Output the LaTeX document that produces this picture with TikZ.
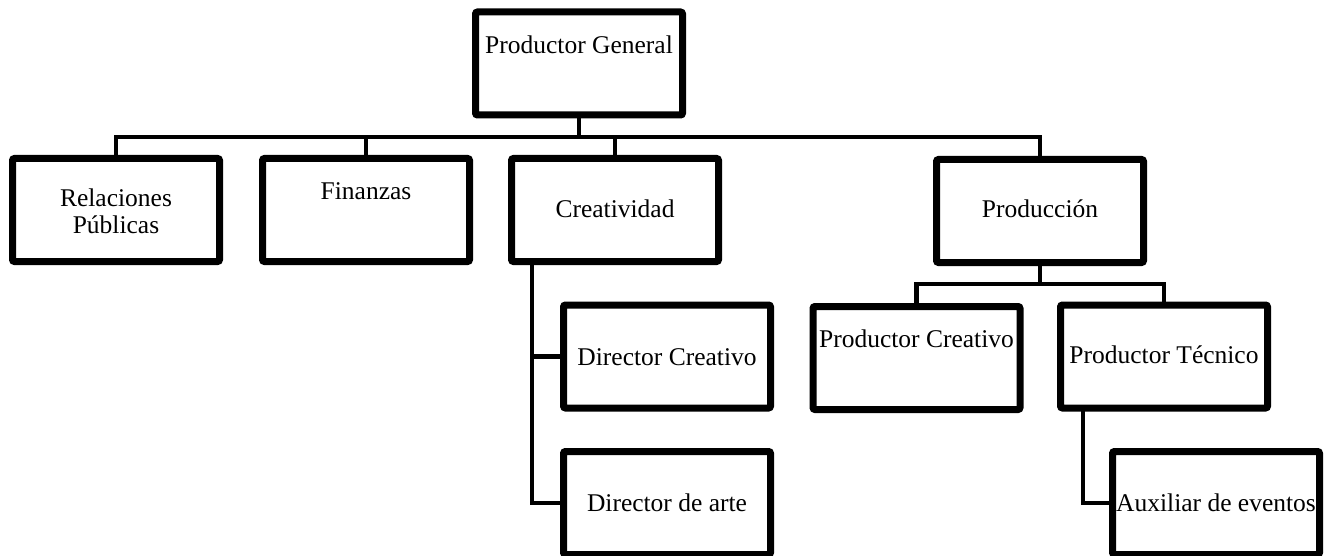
\documentclass[tikz,border=0pt]{standalone}
\usepackage{fontspec}
\setmainfont{Liberation Serif}
\usetikzlibrary{shadows,calc}
\begin{document}
\begin{tikzpicture}[x=0.5pt,y={(0pt,-0.5pt)},
  box/.style={draw=black,line width=3.5pt,fill=white,rounded corners=1pt,
    minimum width=103.5pt,minimum height=51.5pt,inner sep=0pt,
    drop shadow={shadow xshift=1.2pt,shadow yshift=-1.2pt,opacity=0.25,fill=black}},
  txt/.style={inner sep=0pt,anchor=base,font=\fontsize{12.75}{13.5}\selectfont},
  conn/.style={draw=black,line width=2.25pt}]
\useasboundingbox (0,0) rectangle (1328,556);
% boxes
\node[box] (pg) at (579,63.5) {};
\node[box] (rp) at (116,210) {};
\node[box] (fi) at (366,210) {};
\node[box] (cr) at (615,210) {};
\node[box] (pd) at (1040,211) {};
\node[box] (dc) at (667,356.5) {};
\node[box] (da) at (667,503) {};
\node[box] (pc) at (916.5,358) {};
\node[box] (pt) at (1164,356.5) {};
\node[box] (aux) at (1216,503) {};
% texts
\node[txt] (pgt) at (579,54) {Productor General};
\node[txt,anchor=center,align=center] (rpt) at (116,211) {Relaciones\\Públicas};
\node[txt] (fit) at (366,199) {Finanzas};
\node[txt] (crt) at (615,217) {Creatividad};
\node[txt] (pdt) at (1040,217) {Producción};
\node[txt] (dct) at (667,365) {Director Creativo};
\node[txt] (dat) at (667,511) {Director de arte};
\node[txt] (pct) at (916.5,347) {Productor Creativo};
\node[txt] (ptt) at (1164,363) {Productor Técnico};
\node[txt] (auxt) at (1216,511) {Auxiliar de eventos};
% connectors
\coordinate (j0) at (579,137);
\begin{scope}[on background layer/.try]
\end{scope}
\draw[conn] (pg.south) -- (j0);
\draw[conn] (rp.north) |- (pd.north |- j0) -- (pd.north);
\draw[conn] (fi.north) -- (fi.north |- j0);
\draw[conn] (cr.north) -- (cr.north |- j0);
\coordinate (c1) at (532,264);
\draw[conn] (c1) |- (da.west);
\draw[conn] (c1 |- dc.west) -- (dc.west);
\coordinate (j1) at (1040,284);
\draw[conn] (pd.south) -- (j1);
\draw[conn] (pc.north) |- (j1) -| (pt.north);
\coordinate (t1) at (1083,410);
\draw[conn] (t1) |- (aux.west);
\end{tikzpicture}
\end{document}
